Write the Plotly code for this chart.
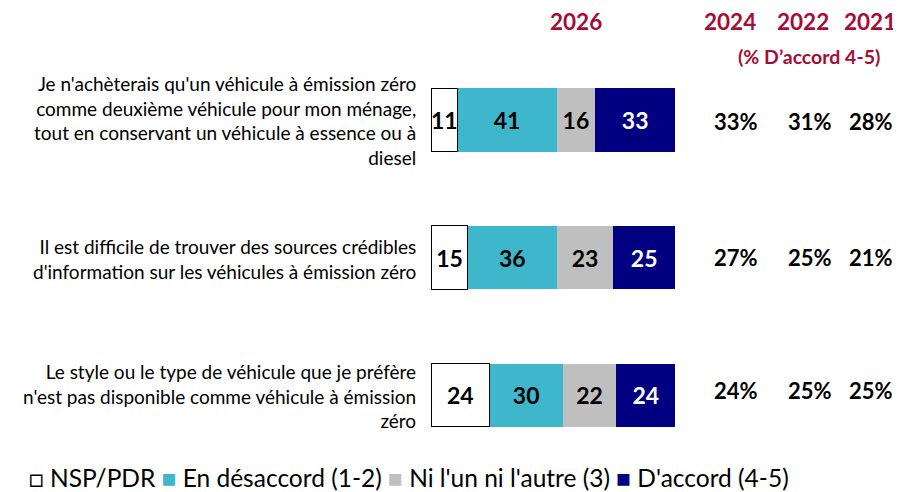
import plotly.graph_objects as go

# ---- data ----
row_ids = ["Q1", "Q2", "Q3"]
statements = [
    "Je n'achèterais qu'un véhicule à émission zéro<br>comme deuxième véhicule pour mon ménage,<br>tout en conservant un véhicule à essence ou à<br>diesel",
    "Il est difficile de trouver des sources crédibles<br>d'information sur les véhicules à émission zéro",
    "Le style ou le type de véhicule que je préfère<br>n'est pas disponible comme véhicule à émission<br>zéro",
]
series_names = ["NSP/PDR", "En désaccord (1-2)", "Ni l'un ni l'autre (3)", "D'accord (4-5)"]
nsp_pdr = [11, 15, 24]
en_desaccord = [41, 36, 30]
ni_lun_ni_lautre = [16, 23, 22]
daccord = [33, 25, 24]
trend_years = ["2024", "2022", "2021"]
pct_2024 = [33, 27, 24]
pct_2022 = [31, 25, 25]
pct_2021 = [28, 21, 25]
current_year = "2026"
subtitle = "(% D’accord 4-5)"

# ---- styles ----
FONT = "Lato, 'Liberation Sans Narrow', Carlito, sans-serif"
RED = "#A50D36"
colors = ["#FFFFFF", "#3EB7CC", "#BFBFBF", "#000080"]
text_colors = ["#000000", "#000000", "#000000", "#FFFFFF"]
series_values = [nsp_pdr, en_desaccord, ni_lun_ni_lautre, daccord]

fig = go.Figure()
for name, vals, col, tcol in zip(series_names, series_values, colors, text_colors):
    is_white = col == "#FFFFFF"
    fig.add_trace(go.Bar(
        y=row_ids, x=vals, name=name, orientation="h",
        marker=dict(color=col, line=dict(color="#000000" if is_white else col,
                                         width=1 if is_white else 0)),
        text=[str(v) for v in vals], textposition="inside", insidetextanchor="middle",
        constraintext="none",
        textfont=dict(family=FONT, size=23, color=tcol, weight="bold"),
        width=0.46, showlegend=False, hoverinfo="skip",
    ))

# page has an 8px body margin: work in reference pixels, convert to figure pixels
OFF = 8
W, H = 901 - OFF, 492 - OFF
L, R = 431 - OFF, 675 - OFF
T, B = 51 - OFF, 464 - OFF

def px_to_paper_x(px):
    return (px - OFF - L) / (R - L)

def py_to_paper(py):
    return (B - (py - OFF)) / (B - T)

annotations = []
# left statements
for rid, s in zip(row_ids, statements):
    annotations.append(dict(xref="paper", yref="y", x=px_to_paper_x(418), y=rid,
                            text=s, showarrow=False, xanchor="right", yanchor="middle",
                            align="right", yshift=-1,
                            font=dict(family=FONT, size=19, color="#000000")))
# trend columns
col_centers = [736, 810, 871]
head_centers = [730, 803, 870]
row_yshift = [-2, 0, 5]
for yr, vals, cx, hx in zip(trend_years, [pct_2024, pct_2022, pct_2021], col_centers, head_centers):
    annotations.append(dict(xref="paper", yref="paper", x=px_to_paper_x(hx), y=py_to_paper(22),
                            text=yr, showarrow=False, xanchor="center", yanchor="middle",
                            font=dict(family=FONT, size=22.5, color=RED, weight="bold")))
    for rid, v, ys in zip(row_ids, vals, row_yshift):
        annotations.append(dict(xref="paper", yref="y", x=px_to_paper_x(cx), y=rid, text=f"{v}%",
                                showarrow=False, xanchor="center", yanchor="middle", yshift=ys,
                                font=dict(family=FONT, size=22, color="#000000", weight="bold")))
annotations.append(dict(xref="paper", yref="paper", x=px_to_paper_x(576), y=py_to_paper(22),
                        text=current_year, showarrow=False, xanchor="center", yanchor="middle",
                        font=dict(family=FONT, size=22.5, color=RED, weight="bold")))
annotations.append(dict(xref="paper", yref="paper", x=px_to_paper_x(809), y=py_to_paper(56),
                        text=subtitle, showarrow=False, xanchor="center", yanchor="middle",
                        font=dict(family=FONT, size=19.5, color=RED, weight="bold")))
# legend
leg_parts = []
for name, col in zip(series_names, colors):
    sym = "□" if col == "#FFFFFF" else f"<span style='color:{col}'>■</span>"
    leg_parts.append(f"{sym} {name}")
annotations.append(dict(xref="paper", yref="paper", x=px_to_paper_x(27), y=py_to_paper(477),
                        text=" ".join(leg_parts), showarrow=False, xanchor="left", yanchor="middle",
                        font=dict(family=FONT, size=24.5, color="#000000")))

fig.update_layout(
    width=W, height=H,
    margin=dict(l=L, r=W - R, t=T, b=H - B, pad=0),
    barmode="stack", barnorm="percent",
    plot_bgcolor="white", paper_bgcolor="white",
    xaxis=dict(range=[0, 100], visible=False, fixedrange=True),
    yaxis=dict(categoryorder="array", categoryarray=row_ids, autorange="reversed",
               visible=False, fixedrange=True),
    annotations=annotations,
    font=dict(family=FONT),
)
fig.write_html("out.html")
